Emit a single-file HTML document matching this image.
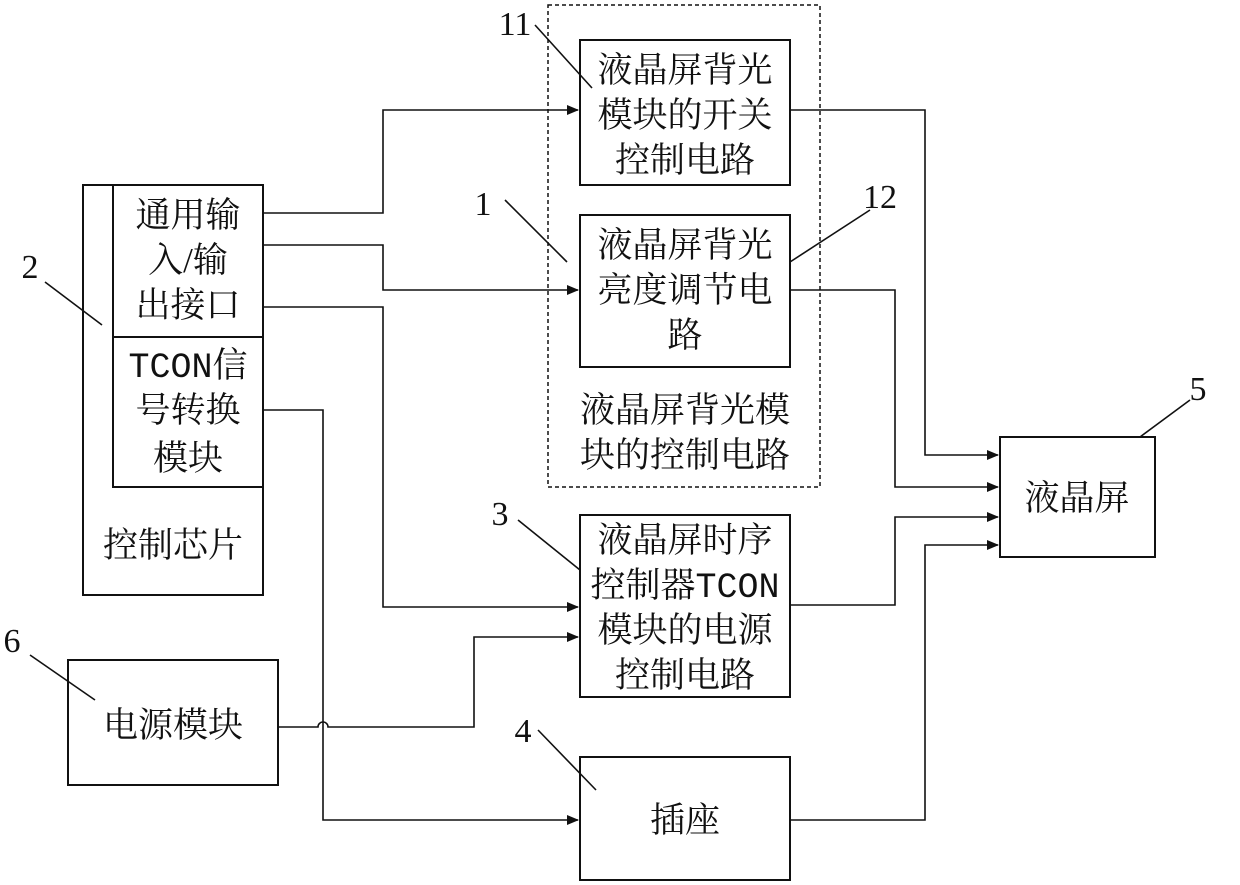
<!DOCTYPE html>
<html><head><meta charset="utf-8"><style>
html,body{margin:0;padding:0;background:#fff;}
svg{display:block;}
text{font-family:"Liberation Serif","Noto Serif CJK SC",serif;font-size:35px;fill:#111;}
.n{font-size:34px;}
.m{font-family:"Liberation Mono","Noto Serif CJK SC",monospace;}
</style></head><body>
<svg width="1240" height="885" viewBox="0 0 1240 885" xmlns="http://www.w3.org/2000/svg">
<defs><marker id="a" markerWidth="12" markerHeight="10" refX="11" refY="5" orient="auto" markerUnits="userSpaceOnUse"><path d="M0,0L12,5L0,10z" fill="#111"/></marker></defs>
<g fill="none" stroke="#111" stroke-width="2">
<rect x="83" y="185" width="180" height="410"/>
<rect x="113" y="185" width="150" height="302"/>
<line x1="113" y1="337" x2="263" y2="337"/>
<rect x="548" y="5" width="272" height="482" stroke-dasharray="4,3" stroke-width="1.5"/>
<rect x="580" y="40" width="210" height="145"/>
<rect x="580" y="215" width="210" height="152"/>
<rect x="580" y="515" width="210" height="182"/>
<rect x="1000" y="437" width="155" height="120"/>
<rect x="68" y="660" width="210" height="125"/>
<rect x="580" y="757" width="210" height="123"/>
</g>
<g fill="none" stroke="#111" stroke-width="1.6">
<polyline points="263,213 383,213 383,110 578,110" marker-end="url(#a)"/>
<polyline points="263,245 383,245 383,290 578,290" marker-end="url(#a)"/>
<polyline points="263,307 383,307 383,607 578,607" marker-end="url(#a)"/>
<polyline points="263,410 323,410 323,820 578,820" marker-end="url(#a)"/>
<path d="M278,727 L318,727 A5,5 0 0 1 328,727 L474,727 L474,637 L578,637" marker-end="url(#a)"/>
<polyline points="790,110 925,110 925,455 998,455" marker-end="url(#a)"/>
<polyline points="790,290 895,290 895,487 998,487" marker-end="url(#a)"/>
<polyline points="790,605 895,605 895,517 998,517" marker-end="url(#a)"/>
<polyline points="790,820 925,820 925,545 998,545" marker-end="url(#a)"/>
<line x1="535" y1="25" x2="592" y2="88"/>
<line x1="870" y1="210" x2="790" y2="262"/>
<line x1="505" y1="200" x2="567" y2="262"/>
<line x1="45" y1="282" x2="102" y2="325"/>
<line x1="518" y1="520" x2="580" y2="570"/>
<line x1="538" y1="730" x2="596" y2="790"/>
<line x1="1190" y1="400" x2="1140" y2="437"/>
<line x1="30" y1="655" x2="95" y2="700"/>
</g>
<g text-anchor="middle">
<text x="188" y="227">通用输</text>
<text x="188" y="272">入/输</text>
<text x="188" y="317">出接口</text>
<text x="188" y="377"><tspan class="m">TCON</tspan>信</text>
<text x="188" y="422">号转换</text>
<text x="188" y="470">模块</text>
<text x="173" y="557">控制芯片</text>
<text x="685" y="82">液晶屏背光</text>
<text x="685" y="127">模块的开关</text>
<text x="685" y="172">控制电路</text>
<text x="685" y="257">液晶屏背光</text>
<text x="685" y="302">亮度调节电</text>
<text x="685" y="347">路</text>
<text x="685" y="422">液晶屏背光模</text>
<text x="685" y="467">块的控制电路</text>
<text x="685" y="552">液晶屏时序</text>
<text x="685" y="597">控制器<tspan class="m">TCON</tspan></text>
<text x="685" y="642">模块的电源</text>
<text x="685" y="687">控制电路</text>
<text x="1077" y="510">液晶屏</text>
<text x="173" y="737">电源模块</text>
<text x="685" y="832">插座</text>
<text class="n" x="515" y="35">11</text>
<text class="n" x="880" y="208">12</text>
<text class="n" x="483" y="215">1</text>
<text class="n" x="30" y="278">2</text>
<text class="n" x="500" y="525">3</text>
<text class="n" x="523" y="742">4</text>
<text class="n" x="1198" y="400">5</text>
<text class="n" x="12" y="652">6</text>
</g>
</svg>
</body></html>
